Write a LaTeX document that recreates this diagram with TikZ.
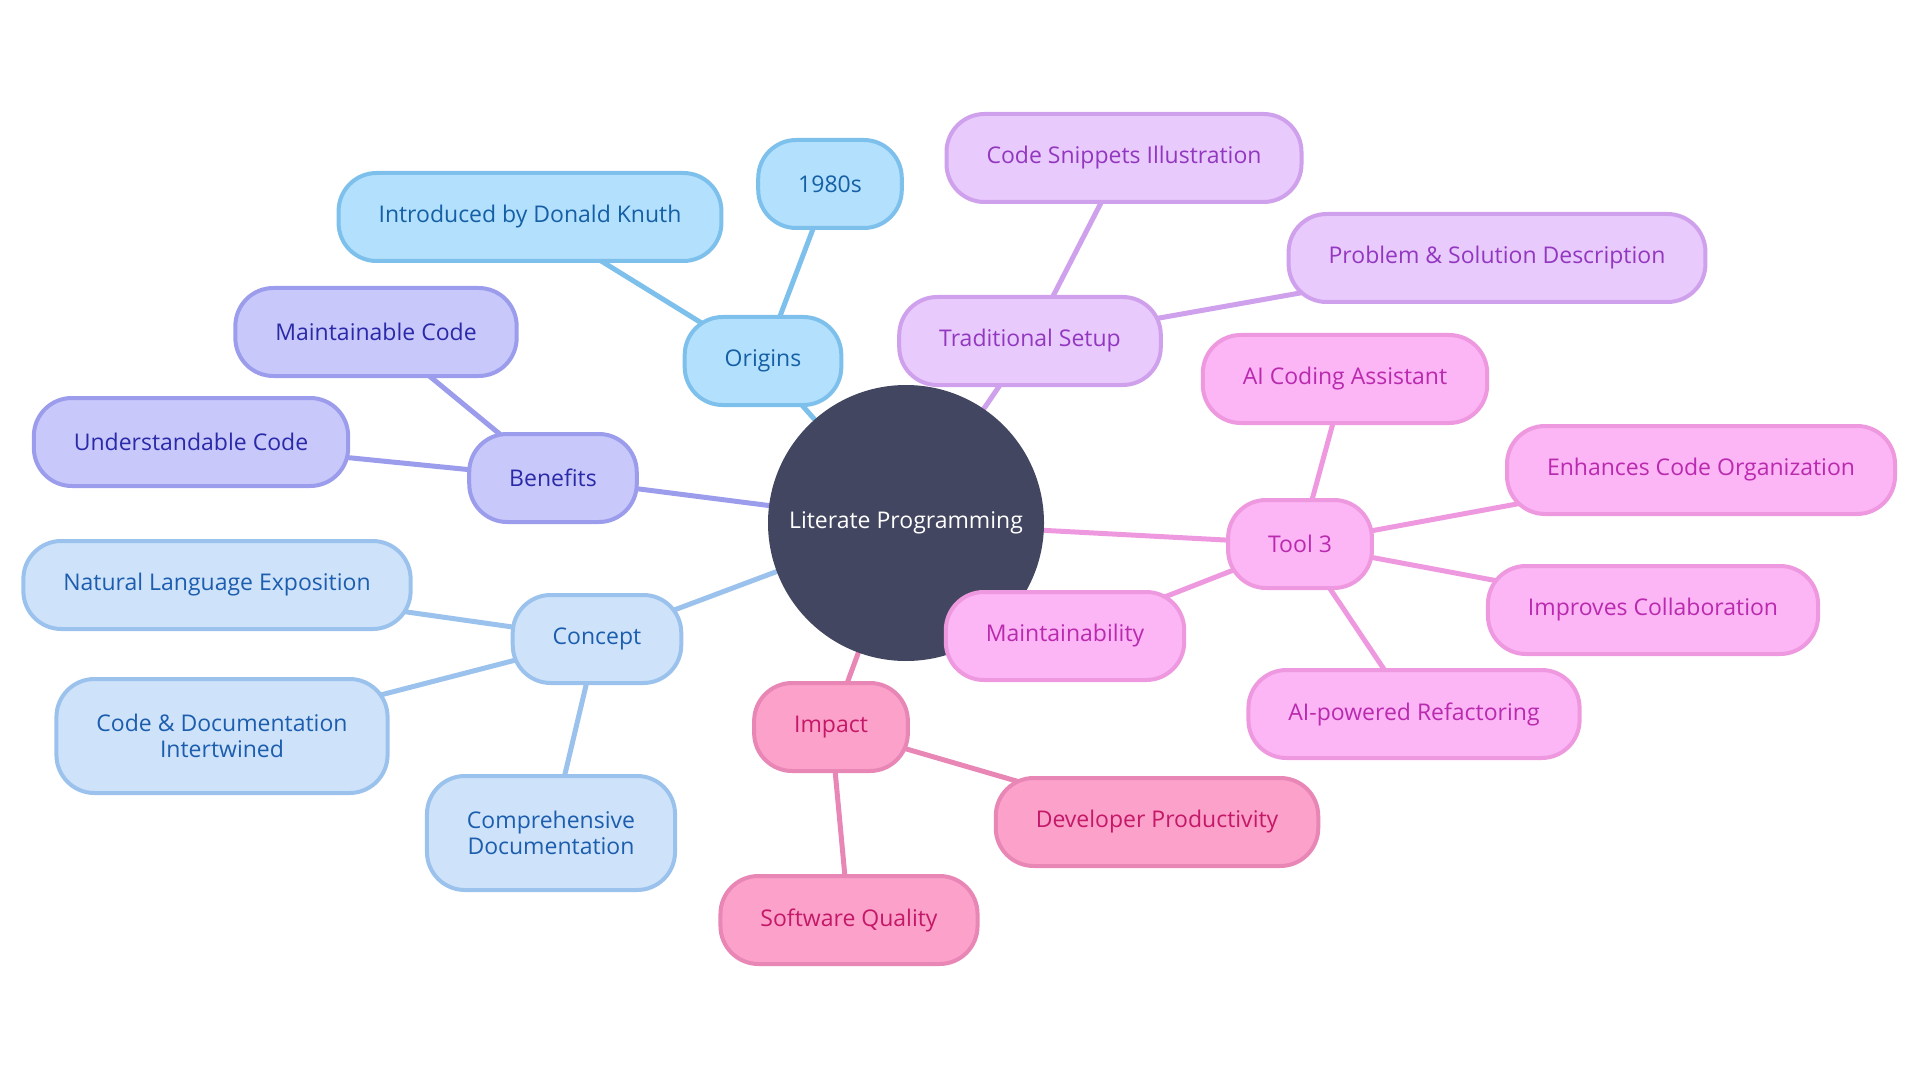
\documentclass[tikz,border=0pt]{standalone}
\usepackage{fontspec}
\setmainfont{Open Sans}
\usetikzlibrary{backgrounds}

\definecolor{hubfill}{HTML}{424660}
\definecolor{origfill}{HTML}{B3E0FD}\definecolor{origline}{HTML}{7DC0EC}\definecolor{origtext}{HTML}{155FA5}
\definecolor{benefill}{HTML}{C8C8FB}\definecolor{beneline}{HTML}{9B9CEB}\definecolor{benetext}{HTML}{2A2AA8}
\definecolor{concfill}{HTML}{CEE3FA}\definecolor{concline}{HTML}{9BC2EC}\definecolor{conctext}{HTML}{1C5DAE}
\definecolor{impfill}{HTML}{FCA1CA}\definecolor{impline}{HTML}{E886B5}\definecolor{imptext}{HTML}{C41868}
\definecolor{toolfill}{HTML}{FCB5F5}\definecolor{toolline}{HTML}{EE99DF}\definecolor{tooltext}{HTML}{B92AAF}
\definecolor{tradfill}{HTML}{E8CAFC}\definecolor{tradline}{HTML}{CFA0EC}\definecolor{tradtext}{HTML}{9337C0}

\begin{document}
\begin{tikzpicture}[
  x=0.5pt, y=-0.5pt,
  font=\fontsize{11.5}{13.2}\selectfont,
  topic/.style={rectangle, rounded corners=19pt, line width=2pt, inner xsep=20pt,
    minimum height=44pt, align=center},
  orig/.style={topic, fill=origfill, draw=origline, text=origtext},
  bene/.style={topic, fill=benefill, draw=beneline, text=benetext},
  conc/.style={topic, fill=concfill, draw=concline, text=conctext},
  imp/.style={topic, fill=impfill, draw=impline, text=imptext},
  tool/.style={topic, fill=toolfill, draw=toolline, text=tooltext},
  trad/.style={topic, fill=tradfill, draw=tradline, text=tradtext},
  twoline/.style={minimum height=57pt},
  link/.style={line width=2.5pt}
]
\useasboundingbox (0,0) rectangle (1920,1080);

\node [circle, fill=hubfill, text=white, minimum size=138pt, inner sep=0pt] (hub) at (906,523) {Literate Programming};

% origins
\node [orig] (origins) at (763,361) {Origins};
\node [orig] (decade) at (830,184) {1980s};
\node [orig] (knuth) at (530,217) {Introduced by Donald Knuth};

% benefits
\node [bene] (benefits) at (553,478) {Benefits};
\node [bene] (maintcode) at (376,332) {Maintainable Code};
\node [bene] (undercode) at (191,442) {Understandable Code};

% concept
\node [conc] (concept) at (597,639) {Concept};
\node [conc] (natural) at (217,585) {Natural Language Exposition};
\node [conc, twoline] (intertwined) at (222,736) {Code \& Documentation\\Intertwined};
\node [conc, twoline] (comprehensive) at (551,833) {Comprehensive\\Documentation};

% impact
\node [imp] (impact) at (831,727) {Impact};
\node [imp] (productivity) at (1157,822) {Developer Productivity};
\node [imp] (quality) at (849,920) {Software Quality};

% tool 3
\node [tool] (tool) at (1300,544) {Tool 3};
\node [tool] (maintain) at (1065,636) {Maintainability};
\node [tool] (assistant) at (1345,379) {AI Coding Assistant};
\node [tool] (organize) at (1701,470) {Enhances Code Organization};
\node [tool] (collab) at (1653,610) {Improves Collaboration};
\node [tool] (refactor) at (1414,714) {AI-powered Refactoring};

% traditional setup
\node [trad] (setup) at (1030,341) {Traditional Setup};
\node [trad] (snippets) at (1124,158) {Code Snippets Illustration};
\node [trad] (problem) at (1497,258) {Problem \& Solution Description};

\begin{scope}[on background layer]
  \draw [link, origline] (hub.center) -- (origins.center);
  \draw [link, origline] (origins.center) -- (decade.center);
  \draw [link, origline] (origins.center) -- (knuth.center);
  \draw [link, beneline] (hub.center) -- (benefits.center);
  \draw [link, beneline] (benefits.center) -- (maintcode.center);
  \draw [link, beneline] (benefits.center) -- (undercode.center);
  \draw [link, concline] (hub.center) -- (concept.center);
  \draw [link, concline] (concept.center) -- (natural.center);
  \draw [link, concline] (concept.center) -- (intertwined.center);
  \draw [link, concline] (concept.center) -- (comprehensive.center);
  \draw [link, impline] (hub.center) -- (impact.center);
  \draw [link, impline] (impact.center) -- (productivity.center);
  \draw [link, impline] (impact.center) -- (quality.center);
  \draw [link, toolline] (hub.center) -- (tool.center);
  \draw [link, toolline] (tool.center) -- (maintain.center);
  \draw [link, toolline] (tool.center) -- (assistant.center);
  \draw [link, toolline] (tool.center) -- (organize.center);
  \draw [link, toolline] (tool.center) -- (collab.center);
  \draw [link, toolline] (tool.center) -- (refactor.center);
  \draw [link, tradline] (hub.center) -- (setup.center);
  \draw [link, tradline] (setup.center) -- (snippets.center);
  \draw [link, tradline] (setup.center) -- (problem.center);
\end{scope}
\end{tikzpicture}
\end{document}
